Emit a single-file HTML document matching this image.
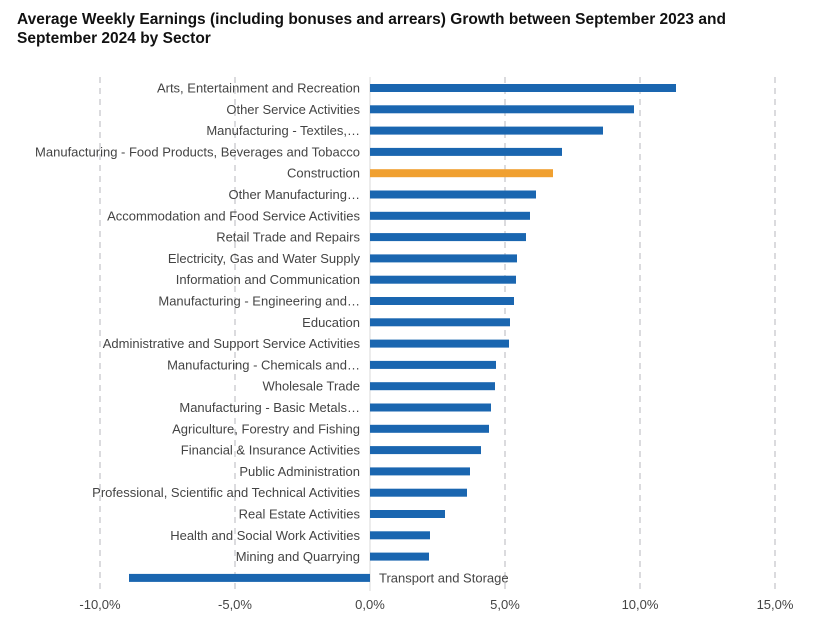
<!DOCTYPE html>
<html><head><meta charset="utf-8"><style>
body{margin:0;background:#fff;width:833px;height:642px;overflow:hidden}
svg{display:block}
</style></head><body>
<svg width="833" height="642" xmlns="http://www.w3.org/2000/svg" font-family="Liberation Sans, sans-serif">
<text x="17" y="24" font-size="15.5" font-weight="bold" fill="#111">Average Weekly Earnings (including bonuses and arrears) Growth between September 2023 and</text>
<text x="17" y="43" font-size="15.5" font-weight="bold" fill="#111">September 2024 by Sector</text>
<g stroke="#cfcfd4" stroke-width="1.5" stroke-dasharray="6,5">
<line x1="100" y1="77" x2="100" y2="591"/>
<line x1="235" y1="77" x2="235" y2="591"/>
<line x1="505" y1="77" x2="505" y2="591"/>
<line x1="640" y1="77" x2="640" y2="591"/>
<line x1="775" y1="77" x2="775" y2="591"/>
</g>
<line x1="370" y1="77" x2="370" y2="591" stroke="#d9d9d9" stroke-width="1"/>
<g id="bars"></g>
<g font-size="13" fill="#444" text-anchor="middle">
<text x="100" y="609">-10,0%</text>
<text x="235" y="609">-5,0%</text>
<text x="370" y="609">0,0%</text>
<text x="505" y="609">5,0%</text>
<text x="640" y="609">10,0%</text>
<text x="775" y="609">15,0%</text>
</g>
<g id="rows" font-size="13" fill="#444"></g>
</svg>
<script>
var d=[["Arts, Entertainment and Recreation",676],["Other Service Activities",634],["Manufacturing - Textiles,…",603],["Manufacturing - Food Products, Beverages and Tobacco",562],["Construction",553],["Other Manufacturing…",536],["Accommodation and Food Service Activities",530],["Retail Trade and Repairs",526],["Electricity, Gas and Water Supply",517],["Information and Communication",516],["Manufacturing - Engineering and…",514],["Education",510],["Administrative and Support Service Activities",509],["Manufacturing - Chemicals and…",496],["Wholesale Trade",495],["Manufacturing - Basic Metals…",491],["Agriculture, Forestry and Fishing",489],["Financial & Insurance Activities",481],["Public Administration",470],["Professional, Scientific and Technical Activities",467],["Real Estate Activities",445],["Health and Social Work Activities",430],["Mining and Quarrying",429],["Transport and Storage",129]];
var ns="http://www.w3.org/2000/svg",b=document.getElementById("bars"),r=document.getElementById("rows");
d.forEach(function(e,i){var y=88+i*21.3;var rc=document.createElementNS(ns,"rect");
var x1=Math.min(370,e[1]),x2=Math.max(370,e[1]);
rc.setAttribute("x",x1);rc.setAttribute("width",x2-x1);rc.setAttribute("y",y-4);rc.setAttribute("height",8);
rc.setAttribute("fill",i==4?"#f0a030":"#1a66b0");b.appendChild(rc);
var t=document.createElementNS(ns,"text");t.textContent=e[0];t.setAttribute("y",y+4.5);
if(e[1]<370){t.setAttribute("x",379);}else{t.setAttribute("x",360);t.setAttribute("text-anchor","end");}
r.appendChild(t);});
</script>
</body></html>
